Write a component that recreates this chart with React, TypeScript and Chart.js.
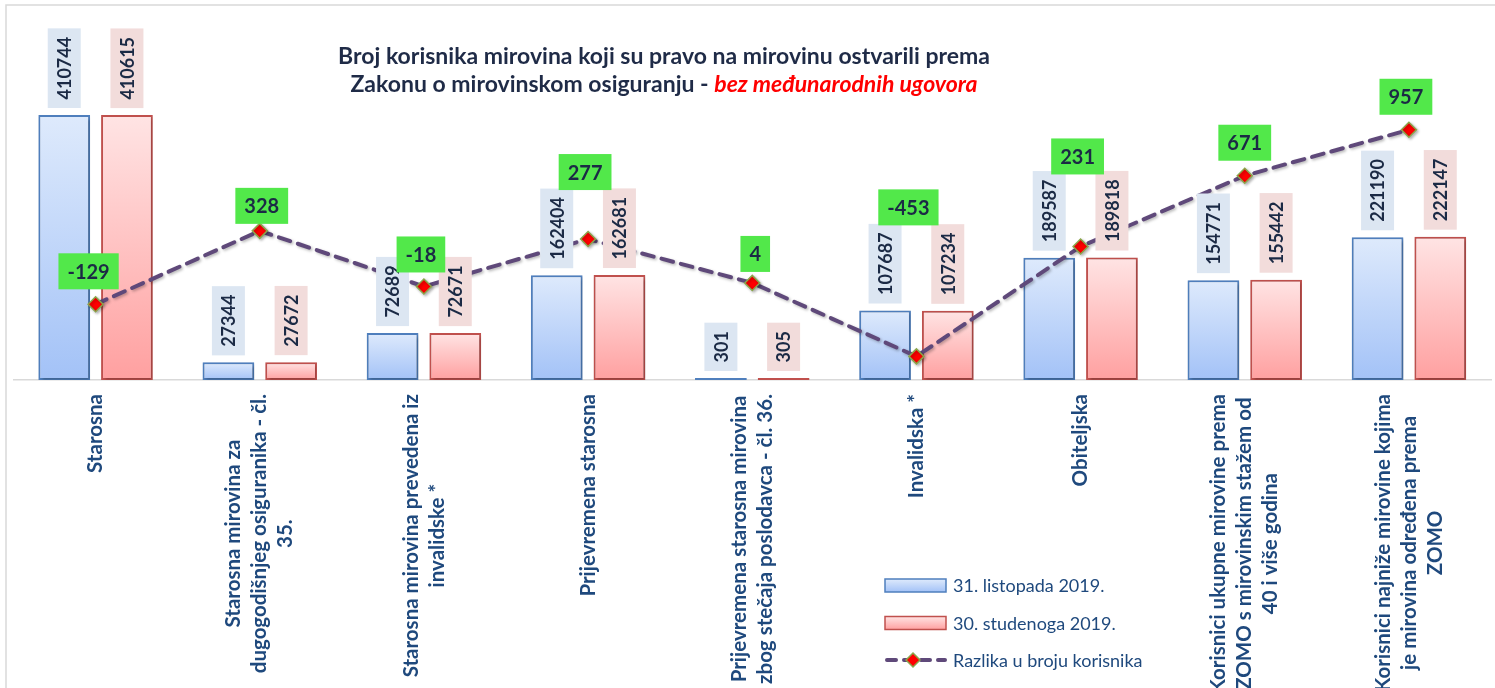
import React, { useEffect, useRef } from 'react';
import { Chart, registerables } from 'chart.js';

Chart.register(...registerables);

// ---------- data ----------
const CATEGORIES: string[][] = [
  ['Starosna'],
  ['Starosna mirovina za', 'dugogodišnjeg osiguranika - čl.', '35.'],
  ['Starosna mirovina prevedena iz', 'invalidske *'],
  ['Prijevremena starosna'],
  ['Prijevremena starosna mirovina', 'zbog stečaja poslodavca - čl. 36.'],
  ['Invalidska *'],
  ['Obiteljska'],
  ['Korisnici ukupne mirovine prema', 'ZOMO s mirovinskim stažem od', '40 i više godina'],
  ['Korisnici najniže mirovine kojima', 'je mirovina određena prema', 'ZOMO'],
];
const SERIES_OCT: number[] = [410744, 27344, 72689, 162404, 301, 107687, 189587, 154771, 221190];
const SERIES_NOV: number[] = [410615, 27672, 72671, 162681, 305, 107234, 189818, 155442, 222147];
const DIFF: number[] = [-129, 328, -18, 277, 4, -453, 231, 671, 957];
const SERIES_NAMES: string[] = ['31. listopada 2019.', '30. studenoga 2019.', 'Razlika u broju korisnika'];
const TITLE_LINE1 = 'Broj korisnika mirovina koji su pravo na mirovinu ostvarili prema';
const TITLE_LINE2_A = 'Zakonu o mirovinskom osiguranju - ';
const TITLE_LINE2_B = 'bez međunarodnih ugovora';

// label placement for the difference labels (dx, dy from point to box centre)
const DIFF_LABEL_SHIFT: number[][] = [
  [-7, -33], [2, -25], [-3, -32], [-3, -67], [3, -29], [-8, -149], [-3, -90], [0, -33], [-3, -33],
];

// ---------- styles ----------
const FONT = 'Lato, "Open Sans", sans-serif';
const NAVY = '#1b2a45';
const AXIS_BLUE = '#1f497d';
const BLUE_TOP = '#deeafc';
const BLUE_BOTTOM = '#a3c2f7';
const BLUE_BORDER = '#4f7fbd';
const RED_TOP = '#ffe4e4';
const RED_BOTTOM = '#ffa0a0';
const RED_BORDER = '#c0504d';
const LINE_COLOR = '#5f497a';

const LINE_IDX = 0;
const BAR_IDX = [1, 2];

function barGradient(top: string, bottom: string) {
  return (c: any) => {
    const chart = c.chart;
    const area = chart.chartArea;
    if (!area || c.type !== 'data' || !chart.scales.y) return bottom;
    let y = chart.scales.y.getPixelForValue(c.raw);
    if (y > area.bottom - 1) y = area.bottom - 1;
    const g = chart.ctx.createLinearGradient(0, y, 0, area.bottom);
    g.addColorStop(0, top);
    g.addColorStop(1, bottom);
    return g;
  };
}

const shadowPlugin = {
  id: 'shadowPlugin',
  beforeDatasetDraw(chart: any) {
    const ctx = chart.ctx;
    ctx.save();
    ctx.shadowColor = 'rgba(0,0,0,0.28)';
    ctx.shadowBlur = 3;
    ctx.shadowOffsetX = 1.5;
    ctx.shadowOffsetY = 1.5;
  },
  afterDatasetDraw(chart: any) {
    chart.ctx.restore();
  },
};

const backgroundPlugin = {
  id: 'backgroundPlugin',
  beforeDraw(chart: any) {
    const ctx = chart.ctx;
    ctx.save();
    ctx.fillStyle = '#ffffff';
    ctx.fillRect(0, 0, chart.width, chart.height);
    ctx.strokeStyle = '#d9d9d9';
    ctx.lineWidth = 1.5;
    ctx.strokeRect(6, 5, 2000, 2000);
    ctx.restore();
  },
};

const labelsPlugin = {
  id: 'labelsPlugin',
  afterDatasetsDraw(chart: any) {
    const ctx = chart.ctx;
    // bar value labels
    const boxColors = ['#dce6f2', '#f2dcdb'];
    BAR_IDX.forEach((di, k) => {
      const meta = chart.getDatasetMeta(di);
      const values = chart.data.datasets[di].data as number[];
      meta.data.forEach((el: any, i: number) => {
        const text = String(values[i]);
        ctx.save();
        ctx.font = `bold 18px ${FONT}`;
        const w = ctx.measureText(text).width;
        const bh = w + 17;
        const bw = 33;
        const bottom = el.y - 7;
        ctx.fillStyle = boxColors[k];
        ctx.fillRect(el.x - bw / 2, bottom - bh, bw, bh);
        ctx.translate(el.x, bottom - bh / 2);
        ctx.rotate(-Math.PI / 2);
        ctx.fillStyle = NAVY;
        ctx.textAlign = 'center';
        ctx.textBaseline = 'middle';
        ctx.fillText(text, 0, 1);
        ctx.restore();
      });
    });
    // difference labels
    const lmeta = chart.getDatasetMeta(LINE_IDX);
    lmeta.data.forEach((el: any, i: number) => {
      const text = String(DIFF[i]);
      ctx.save();
      ctx.font = `bold 20px ${FONT}`;
      const w = ctx.measureText(text).width;
      const bw = w + 18;
      const bh = 36;
      const cx = el.x + DIFF_LABEL_SHIFT[i][0];
      const cy = el.y + DIFF_LABEL_SHIFT[i][1];
      ctx.fillStyle = '#52e84a';
      ctx.fillRect(cx - bw / 2, cy - bh / 2, bw, bh);
      ctx.fillStyle = NAVY;
      ctx.textAlign = 'center';
      ctx.textBaseline = 'middle';
      ctx.fillText(text, cx, cy + 1);
      ctx.restore();
    });
  },
  afterDraw(chart: any) {
    const ctx = chart.ctx;
    const xs = chart.scales.x;
    // category labels
    CATEGORIES.forEach((lines, i) => {
      const cx = xs.getPixelForValue(i);
      ctx.save();
      ctx.font = `bold 20.5px ${FONT}`;
      ctx.fillStyle = AXIS_BLUE;
      const maxW = Math.max(...lines.map((l) => ctx.measureText(l).width));
      ctx.translate(cx, chart.chartArea.bottom + 14);
      ctx.rotate(-Math.PI / 2);
      ctx.textAlign = 'center';
      ctx.textBaseline = 'middle';
      const n = lines.length;
      lines.forEach((l, j) => {
        ctx.fillText(l, -maxW / 2, (j - (n - 1) / 2) * 26);
      });
      ctx.restore();
    });

    // title
    ctx.save();
    ctx.textBaseline = 'middle';
    const fA = `bold 23px ${FONT}`;
    const fB = `italic bold 23px ${FONT}`;
    ctx.font = fA;
    ctx.fillStyle = '#1f2b47';
    ctx.textAlign = 'center';
    ctx.fillText(TITLE_LINE1, 664, 57);
    const wA = ctx.measureText(TITLE_LINE2_A).width;
    ctx.font = fB;
    const wB = ctx.measureText(TITLE_LINE2_B).width;
    const startX = 664 - (wA + wB) / 2;
    ctx.textAlign = 'left';
    ctx.font = fA;
    ctx.fillStyle = '#1f2b47';
    ctx.fillText(TITLE_LINE2_A, startX, 85);
    ctx.font = fB;
    ctx.fillStyle = '#ff0000';
    ctx.fillText(TITLE_LINE2_B, startX + wA, 85);
    ctx.restore();

    // legend
    ctx.save();
    const lx = 885;
    const ys = [585.5, 623, 660];
    const fills = [[BLUE_TOP, BLUE_BOTTOM, BLUE_BORDER], [RED_TOP, RED_BOTTOM, RED_BORDER]];
    fills.forEach((f, k) => {
      const y = ys[k];
      const g = ctx.createLinearGradient(0, y - 6.5, 0, y + 6.5);
      g.addColorStop(0, f[0]);
      g.addColorStop(1, f[1]);
      ctx.fillStyle = g;
      ctx.fillRect(lx, y - 6.5, 61, 13);
      ctx.strokeStyle = f[2];
      ctx.lineWidth = 1.5;
      ctx.strokeRect(lx, y - 6.5, 61, 13);
    });
    // line swatch
    ctx.strokeStyle = LINE_COLOR;
    ctx.lineWidth = 4;
    ctx.lineCap = 'round';
    ctx.setLineDash([9, 8]);
    ctx.beginPath();
    ctx.moveTo(lx + 2, ys[2]);
    ctx.lineTo(lx + 60, ys[2]);
    ctx.stroke();
    ctx.setLineDash([]);
    const dx = lx + 28;
    ctx.beginPath();
    ctx.moveTo(dx, ys[2] - 7);
    ctx.lineTo(dx + 7, ys[2]);
    ctx.lineTo(dx, ys[2] + 7);
    ctx.lineTo(dx - 7, ys[2]);
    ctx.closePath();
    ctx.fillStyle = '#ff0000';
    ctx.fill();
    ctx.strokeStyle = '#8aa64b';
    ctx.lineWidth = 1.5;
    ctx.stroke();
    ctx.font = `18px ${FONT}`;
    ctx.fillStyle = AXIS_BLUE;
    ctx.textAlign = 'left';
    ctx.textBaseline = 'middle';
    SERIES_NAMES.forEach((name, k) => ctx.fillText(name, 953, ys[k] + 1));
    ctx.restore();
  },
};

export default function App() {
  const canvasRef = useRef<HTMLCanvasElement | null>(null);

  useEffect(() => {
    const canvas = canvasRef.current;
    if (!canvas) return;
    const chart = new Chart(canvas, {
      type: 'bar',
      data: {
        labels: CATEGORIES.map((l) => l.join(' ')),
        datasets: [
          {
            type: 'line',
            label: SERIES_NAMES[2],
            data: DIFF,
            yAxisID: 'y2',
            order: 0,
            borderColor: LINE_COLOR,
            borderWidth: 4,
            borderDash: [12, 8],
            borderCapStyle: 'round',
            tension: 0,
            fill: false,
            pointStyle: 'rectRot',
            pointRadius: 7.5,
            pointBackgroundColor: '#ff0000',
            pointBorderColor: '#8aa64b',
            pointBorderWidth: 1.5,
          } as any,
          {
            type: 'bar',
            label: SERIES_NAMES[0],
            data: SERIES_OCT,
            yAxisID: 'y',
            order: 1,
            backgroundColor: barGradient(BLUE_TOP, BLUE_BOTTOM),
            borderColor: BLUE_BORDER,
            borderWidth: 2,
            borderSkipped: false,
            minBarLength: 2,
            categoryPercentage: 0.764,
            barPercentage: 0.825,
          },
          {
            type: 'bar',
            label: SERIES_NAMES[1],
            data: SERIES_NOV,
            yAxisID: 'y',
            order: 1,
            backgroundColor: barGradient(RED_TOP, RED_BOTTOM),
            borderColor: RED_BORDER,
            borderWidth: 2,
            borderSkipped: false,
            minBarLength: 2,
            categoryPercentage: 0.764,
            barPercentage: 0.825,
          },
        ],
      },
      options: {
        responsive: false,
        animation: false,
        layout: { padding: { left: 13.5, right: 1.5, top: 20, bottom: 0 } },
        plugins: {
          legend: { display: false },
          title: { display: false },
          tooltip: { enabled: false },
        },
        scales: {
          x: {
            display: true,
            grid: { display: false, drawTicks: false },
            ticks: { display: false },
            border: { display: true, color: '#d9d9d9', width: 1.5 },
            afterFit: (s: any) => {
              s.height = 308;
            },
          },
          y: { display: false, min: 0, max: 558000 },
          y2: { display: false, min: -600, max: 1640, position: 'right' },
        },
      },
      plugins: [backgroundPlugin, shadowPlugin, labelsPlugin],
    });
    return () => chart.destroy();
  }, []);

  return (
    <div
      style={{
        position: 'fixed',
        left: 0,
        top: 0,
        width: 1495,
        height: 688,
        overflow: 'hidden',
        background: '#fff',
      }}
    >
      <canvas ref={canvasRef} width={1500} height={688} style={{ display: 'block' }} />
    </div>
  );
}
